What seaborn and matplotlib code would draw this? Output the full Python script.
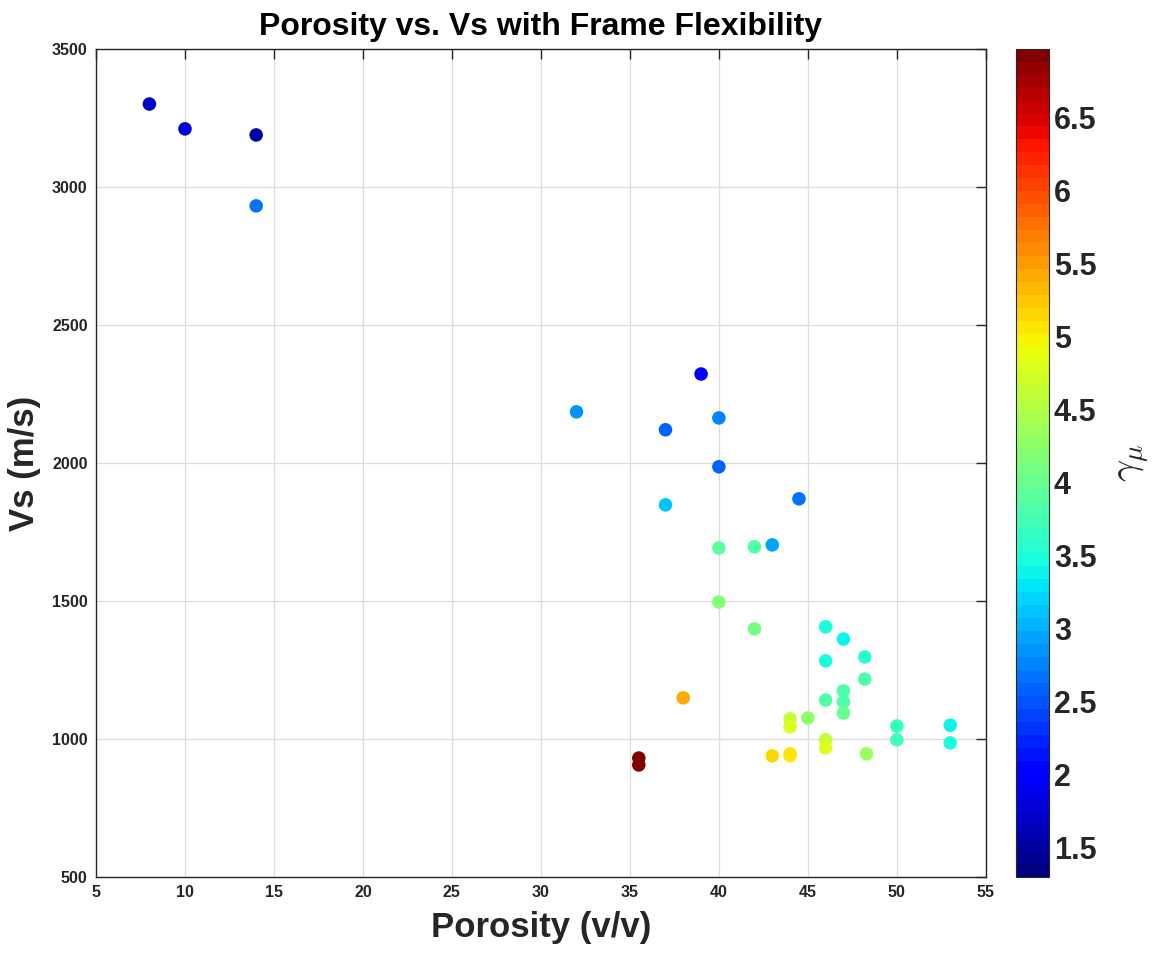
import numpy as np
import pandas as pd
import matplotlib
matplotlib.use("Agg")
import matplotlib.pyplot as plt
import seaborn as sns
from matplotlib.colors import Normalize
from matplotlib.cm import ScalarMappable

# ---- data ----
porosity = [8, 10, 14, 14, 39, 32, 37, 40, 40, 37, 44.5, 40, 42, 43, 40, 42,
            46, 47, 46, 48.2, 48.2, 47, 46, 47, 47, 38, 44, 44, 45, 50, 50,
            53, 53, 46, 46, 48.3, 43, 44, 44, 35.5, 35.5]
vs = [3300, 3210, 3188, 2931, 2322, 2185, 2120, 2163, 1986, 1848, 1870, 1692,
      1696, 1703, 1496, 1399, 1406, 1362, 1283, 1297, 1217, 1174, 1141, 1134,
      1094, 1149, 1073, 1044, 1076, 1047, 997, 1050, 986, 997, 968, 946, 939,
      946, 940, 931, 906]
gamma_mu = [1.72, 1.75, 1.5, 2.7, 1.95, 2.85, 2.6, 2.8, 2.55, 3.15, 2.7, 3.95,
            3.85, 2.95, 4.2, 4.05, 3.5, 3.4, 3.45, 3.6, 3.85, 3.8, 3.85, 3.8,
            4.0, 5.4, 4.6, 4.8, 4.3, 3.65, 3.75, 3.4, 3.5, 4.6, 4.8, 4.35,
            5.15, 5.05, 5.05, 6.9, 6.95]
x_ticks = [5, 10, 15, 20, 25, 30, 35, 40, 45, 50, 55]
y_ticks = [500, 1000, 1500, 2000, 2500, 3000, 3500]
cbar_ticks = [1.5, 2, 2.5, 3, 3.5, 4, 4.5, 5, 5.5, 6, 6.5]
clim = (1.3, 6.97)

df = pd.DataFrame({"Porosity": porosity, "Vs": vs, "gamma": gamma_mu})

sns.set_style("white")
plt.rcParams["font.family"] = ["Liberation Sans", "DejaVu Sans"]
plt.rcParams["mathtext.fontset"] = "cm"

cmap = matplotlib.colormaps["jet"].resampled(64)
norm = Normalize(vmin=clim[0], vmax=clim[1])

fig = plt.figure(figsize=(11.75, 9.59), dpi=100)
ax = fig.add_axes([0.0817, 0.0855, 0.7573, 0.8636])
cax = fig.add_axes([0.8647, 0.0855, 0.0281, 0.8636])

sns.scatterplot(data=df, x="Porosity", y="Vs", hue="gamma", palette=cmap,
                hue_norm=norm, s=95, linewidth=0, legend=False, ax=ax, zorder=3)

ax.set_xlim(5, 55)
ax.set_ylim(500, 3500)
ax.set_xticks(x_ticks)
ax.set_yticks(y_ticks)
ax.grid(True, color="#dcdcdc", linewidth=0.9)
ax.set_axisbelow(True)
ax.tick_params(direction="in", length=7, width=1, top=True, right=True,
               labelsize=11.5, colors="#262626", pad=6)
for lab in ax.get_xticklabels() + ax.get_yticklabels():
    lab.set_fontweight("bold")
for sp in ax.spines.values():
    sp.set_color("#262626")
    sp.set_linewidth(1.0)

ax.set_xlabel("Porosity (v/v)", fontsize=25, fontweight="bold", color="#262626", labelpad=8)
ax.set_ylabel("Vs (m/s)", fontsize=25, fontweight="bold", color="#262626", labelpad=8)
ax.set_title("Porosity vs. Vs with Frame Flexibility", fontsize=23,
             fontweight="bold", color="black", pad=10)

sm = ScalarMappable(norm=norm, cmap=cmap)
cb = fig.colorbar(sm, cax=cax)
cb.set_ticks(cbar_ticks)
cb.set_ticklabels([f"{t:g}" for t in cbar_ticks])
cax.tick_params(direction="in", length=8, width=1, labelsize=22, colors="#262626")
for lab in cax.get_yticklabels():
    lab.set_fontweight("bold")
cb.outline.set_edgecolor("#262626")
cb.set_label(r"$\gamma_{\mu}$", fontsize=28, rotation=90, labelpad=14)

fig.savefig("out.png", dpi=100)
